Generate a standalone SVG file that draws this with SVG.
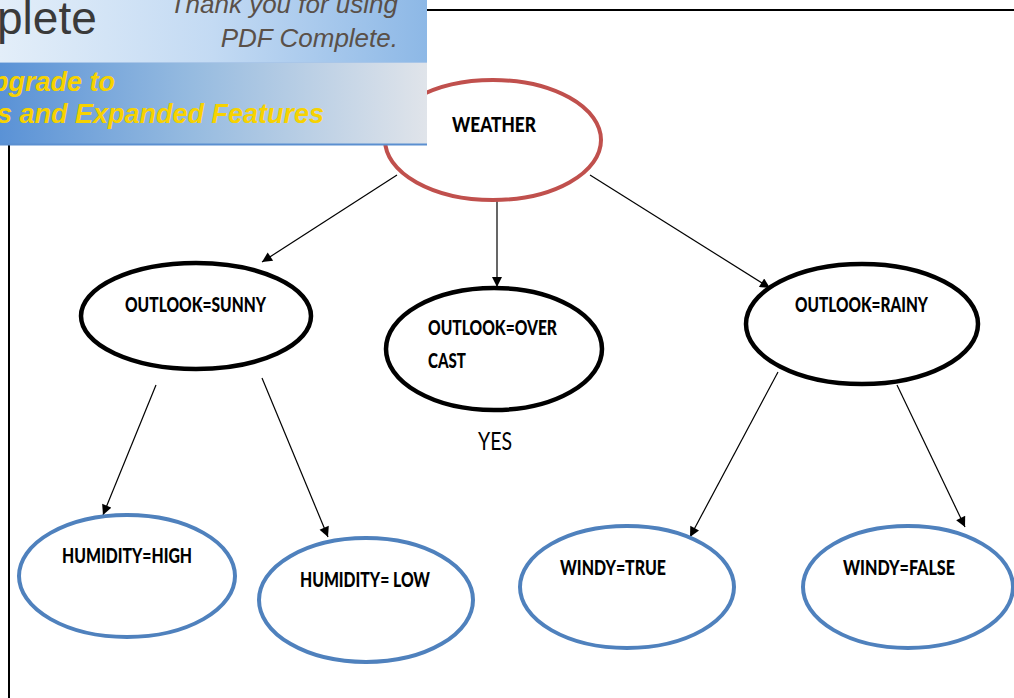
<svg xmlns="http://www.w3.org/2000/svg" width="1014" height="698" viewBox="0 0 1014 698">
<defs>
<linearGradient id="gTop" x1="0" y1="0" x2="1" y2="0">
<stop offset="0" stop-color="#e3eef9"/><stop offset="0.5" stop-color="#c3daf3"/><stop offset="1" stop-color="#8db8e6"/>
</linearGradient>
<linearGradient id="gBot" x1="0" y1="0" x2="1" y2="0">
<stop offset="0" stop-color="#5a92d6"/><stop offset="0.45" stop-color="#96bbe0"/><stop offset="1" stop-color="#e0e4ea"/>
</linearGradient>
<marker id="ah" viewBox="0 0 10 10" refX="10" refY="5" markerWidth="12" markerHeight="10" markerUnits="userSpaceOnUse" orient="auto">
<path d="M0,0 L10,5 L0,10 z" fill="#000"/>
</marker>
<clipPath id="bclip"><rect x="0" y="0" width="427" height="146"/></clipPath>
</defs>
<style>
.red{fill:#fff;stroke:#c0504d;stroke-width:4}
.blk{fill:#fff;stroke:#000;stroke-width:4.5}
.blu{fill:#fff;stroke:#4f81bd;stroke-width:4}
.lbl{font-family:Lato,"Open Sans","Liberation Sans",sans-serif;font-weight:900;font-size:21px;fill:#000}
.yes{font-family:Lato,"Open Sans","Liberation Sans",sans-serif;font-size:25px;fill:#000}
.edge{stroke:#000;stroke-width:1.2;fill:none;marker-end:url(#ah)}
.bt{font-family:"Liberation Sans",Arial,sans-serif;font-style:italic}
</style>
<rect width="1014" height="698" fill="#fff"/>
<g id="frame" fill="none" stroke="#000" stroke-width="2">
<line x1="8" y1="10" x2="1014" y2="10"/>
<line x1="9" y1="10" x2="9" y2="698"/>
</g>
<g id="connectors">
<line class="edge" x1="397" y1="175" x2="262" y2="262"/>
<line class="edge" x1="497" y1="200" x2="497" y2="287"/>
<line class="edge" x1="590" y1="175" x2="770" y2="288"/>
<line class="edge" x1="156" y1="385" x2="103" y2="515"/>
<line class="edge" x1="262" y1="378" x2="328" y2="537"/>
<line class="edge" x1="778" y1="372" x2="690" y2="537"/>
<line class="edge" x1="897" y1="385" x2="965" y2="527"/>
</g>
<g id="weather">
<ellipse class="red" cx="493" cy="140" rx="108" ry="60"/>
<text class="lbl" x="452" y="132" textLength="84" lengthAdjust="spacingAndGlyphs" font-size="23">WEATHER</text>
</g>
<g id="sunny">
<ellipse class="blk" cx="196" cy="316" rx="115" ry="53"/>
<text class="lbl" x="125" y="312" textLength="141" lengthAdjust="spacingAndGlyphs">OUTLOOK=SUNNY</text>
</g>
<g id="overcast">
<ellipse class="blk" cx="494" cy="349" rx="108" ry="61"/>
<text class="lbl" x="428" y="335" textLength="129" lengthAdjust="spacingAndGlyphs">OUTLOOK=OVER</text>
<text class="lbl" x="428" y="368" textLength="38" lengthAdjust="spacingAndGlyphs">CAST</text>
</g>
<g id="yes">
<text class="yes" x="478" y="450" textLength="34" lengthAdjust="spacingAndGlyphs">YES</text>
</g>
<g id="rainy">
<ellipse class="blk" cx="862" cy="324" rx="116" ry="60"/>
<text class="lbl" x="795" y="312" textLength="133" lengthAdjust="spacingAndGlyphs">OUTLOOK=RAINY</text>
</g>
<g id="hhigh">
<ellipse class="blu" cx="127" cy="576" rx="108" ry="61"/>
<text class="lbl" x="62" y="563" textLength="130" lengthAdjust="spacingAndGlyphs">HUMIDITY=HIGH</text>
</g>
<g id="hlow">
<ellipse class="blu" cx="366" cy="600" rx="107" ry="62"/>
<text class="lbl" x="300" y="587" textLength="130" lengthAdjust="spacingAndGlyphs">HUMIDITY= LOW</text>
</g>
<g id="wtrue">
<ellipse class="blu" cx="627" cy="587" rx="107" ry="61"/>
<text class="lbl" x="560" y="575" textLength="106" lengthAdjust="spacingAndGlyphs">WINDY=TRUE</text>
</g>
<g id="wfalse">
<ellipse class="blu" cx="908" cy="587" rx="105" ry="61"/>
<text class="lbl" x="843" y="575" textLength="112" lengthAdjust="spacingAndGlyphs">WINDY=FALSE</text>
</g>
<g id="banner" clip-path="url(#bclip)">
<rect x="0" y="0" width="427" height="62" fill="url(#gTop)"/>
<rect x="0" y="62" width="427" height="82" fill="url(#gBot)"/>
<line x1="0" y1="62.5" x2="427" y2="62.5" stroke="#a9c6e8" stroke-width="1"/>
<line x1="0" y1="144.5" x2="427" y2="144.5" stroke="#5b8fd0" stroke-width="2"/>
<text x="-3" y="34" font-family="'Liberation Sans',Arial,sans-serif" font-size="46" fill="#3a3a3a">plete</text>
<text class="bt" x="398" y="13" text-anchor="end" font-size="26" fill="#5a5048">Thank you for using</text>
<text class="bt" x="398" y="47" text-anchor="end" font-size="26" fill="#5a5048">PDF Complete.</text>
<text class="bt" x="-8" y="91" font-size="27" font-weight="bold" fill="#f7d200">pgrade to</text>
<text class="bt" x="-3" y="123" font-size="27" font-weight="bold" fill="#f7d200">s and Expanded Features</text>
</g>
</svg>
